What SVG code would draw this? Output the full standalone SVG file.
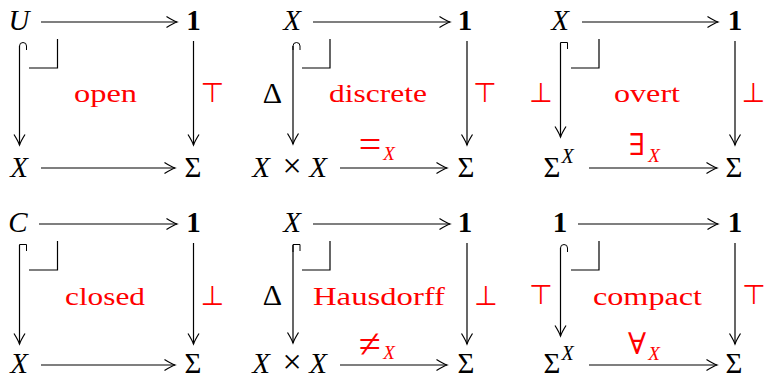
<svg xmlns="http://www.w3.org/2000/svg" width="765" height="379" viewBox="0 0 765 379">
<style>
.m{font-family:"Liberation Serif","DejaVu Serif",serif;font-size:29px;fill:#000;text-anchor:middle}
.i{font-style:italic}
.b{font-weight:bold}
.x{font-size:34px}
.lab{font-family:"Liberation Serif","DejaVu Serif",serif;font-size:30px;text-anchor:middle}
.eq{font-family:"Liberation Serif","DejaVu Serif",serif;font-size:40px;text-anchor:middle;fill:#ff0000}
.sub{font-family:"Liberation Serif","DejaVu Serif",serif;font-size:19px;font-style:italic;text-anchor:middle}
.sym{font-family:"DejaVu Sans",sans-serif;font-size:27px;fill:#ff0000;text-anchor:middle}
.red{fill:#ff0000}
.w{font-family:"Liberation Serif","DejaVu Serif",serif;font-size:26px;fill:#ff0000;text-anchor:middle}
.e{fill:none;stroke:#000;stroke-width:1.2;marker-end:url(#ah)}
.h{fill:none;stroke:#000;stroke-width:1}
.c{fill:none;stroke:#000;stroke-width:1.2}
</style>
<defs>
<marker id="ah" markerUnits="userSpaceOnUse" viewBox="-12 -7 14 14" refX="0" refY="0" markerWidth="14" markerHeight="14" orient="auto">
<path d="M-10.5,-5.5 Q-3.5,-1.2 0,0 Q-3.5,1.2 -10.5,5.5" fill="none" stroke="#000" stroke-width="1.2"/>
</marker>
</defs>

<!-- Panel 1: open -->
<g id="p1-U"><text class="m i" x="19" y="29.5">U</text></g>
<g id="p1-1"><text class="m b" x="193.5" y="29.5">1</text></g>
<g id="p1-X"><text class="m i" x="19" y="176.5">X</text></g>
<g id="p1-S"><text class="m" x="193" y="176.5">Σ</text></g>

<!-- Panel 2: discrete -->
<g id="p2-X"><text class="m i" x="292" y="29.5">X</text></g>
<g id="p2-1"><text class="m b" x="465" y="29.5">1</text></g>
<g id="p2-XX"><text class="m i" x="261" y="176.5">X</text><text class="m x" x="292" y="177">×</text><text class="m i" x="318" y="176.5">X</text></g>
<g id="p2-S"><text class="m" x="466" y="176.5">Σ</text></g>

<!-- Panel 3: overt -->
<g id="p3-X"><text class="m i" x="560" y="29.5">X</text></g>
<g id="p3-1"><text class="m b" x="735" y="29.5">1</text></g>
<g id="p3-SX"><text class="m" x="552" y="176.5">Σ</text><text class="sub" style="font-size:20px" x="567.5" y="163">X</text></g>
<g id="p3-S"><text class="m" x="734" y="176.5">Σ</text></g>

<!-- Panel 4: closed -->
<g id="p4-C"><text class="m i" x="18" y="231.5">C</text></g>
<g id="p4-1"><text class="m b" x="193.5" y="231.5">1</text></g>
<g id="p4-X"><text class="m i" x="19" y="373">X</text></g>
<g id="p4-S"><text class="m" x="193" y="373">Σ</text></g>

<!-- Panel 5: Hausdorff -->
<g id="p5-X"><text class="m i" x="292" y="231.5">X</text></g>
<g id="p5-1"><text class="m b" x="465" y="231.5">1</text></g>
<g id="p5-XX"><text class="m i" x="261" y="373">X</text><text class="m x" x="292" y="372.5">×</text><text class="m i" x="318" y="373">X</text></g>
<g id="p5-S"><text class="m" x="466" y="373">Σ</text></g>

<!-- Panel 6: compact -->
<g id="p6-1a"><text class="m b" x="560" y="231.5">1</text></g>
<g id="p6-1b"><text class="m b" x="735" y="231.5">1</text></g>
<g id="p6-SX"><text class="m" x="552" y="373">Σ</text><text class="sub" style="font-size:20px" x="567.5" y="360">X</text></g>
<g id="p6-S"><text class="m" x="734" y="373">Σ</text></g>

<g id="connectors">
<!-- panel 1 -->
<path class="e" d="M41,22 H177"/>
<path class="e" d="M41,168 H175"/>
<path class="h" d="M26.5,50 V46 A3.5,3.5 0 0 0 19.5,46 V50"/>
<path class="e" d="M19.5,46 V145"/>
<path class="e" d="M193.5,41 V145"/>
<path class="c" d="M29,68 H57.5 V39"/>
<!-- panel 2 -->
<path class="e" d="M313,22 H450"/>
<path class="e" d="M340,168 H447"/>
<path class="h" d="M300,50 V46 A3.5,3.5 0 0 0 293,46 V50"/>
<path class="e" d="M293,46 V144"/>
<path class="e" d="M467,41 V145"/>
<path class="c" d="M302,68 H330 V39"/>
<!-- panel 3 -->
<path class="e" d="M582,22 H718"/>
<path class="e" d="M589,168 H717"/>
<path class="h" d="M567.5,49 V42.5 H560.5 V50"/>
<path class="e" d="M560.5,43 V137"/>
<path class="e" d="M735,41 V145"/>
<path class="c" d="M571,68 H599 V39"/>
<!-- panel 4 -->
<path class="e" d="M39,224 H177"/>
<path class="e" d="M41,365 H175"/>
<path class="h" d="M26.5,251 V244.5 H19.5 V252"/>
<path class="e" d="M19.5,245 V344"/>
<path class="e" d="M193.5,243 V344"/>
<path class="c" d="M29,270 H57.5 V241"/>
<!-- panel 5 -->
<path class="e" d="M313,224 H450"/>
<path class="e" d="M340,365 H447"/>
<path class="h" d="M300,251 V244.5 H293 V252"/>
<path class="e" d="M293,245 V343"/>
<path class="e" d="M467,243 V344"/>
<path class="c" d="M302,270 H330 V241"/>
<!-- panel 6 -->
<path class="e" d="M578,224 H718"/>
<path class="e" d="M589,365 H717"/>
<path class="h" d="M567.5,252 V248 A3.5,3.5 0 0 0 560.5,248 V252"/>
<path class="e" d="M560.5,248 V336"/>
<path class="e" d="M735,243 V344"/>
<path class="c" d="M571,270 H599 V241"/>
</g>

<g id="edge-labels">
<text class="sym" x="212.5" y="102">⊤</text>
<text class="lab" x="272.5" y="102.5">Δ</text>
<text class="sym" x="485" y="102">⊤</text>
<text class="eq" x="370" y="158">=</text><text class="sub red" x="389" y="160">X</text>
<text class="sym" x="541" y="102">⊥</text>
<text class="sym" x="753.5" y="102">⊥</text>
<text class="lab red" x="637" y="155">∃</text><text class="sub red" x="654" y="161.5">X</text>

<text class="sym" x="212.5" y="305">⊥</text>
<text class="lab" x="272.5" y="304.5">Δ</text>
<text class="sym" x="486" y="305">⊥</text>
<text class="eq" x="370" y="357">≠</text><text class="sub red" x="389" y="359">X</text>
<text class="sym" x="541" y="304">⊤</text>
<text class="sym" x="754" y="304">⊤</text>
<text class="lab red" x="637" y="354">∀</text><text class="sub red" x="654" y="360">X</text>
</g>

<g id="names">
<text class="w" x="105.5" y="102" textLength="63" lengthAdjust="spacingAndGlyphs">open</text>
<text class="w" x="378" y="102" textLength="98" lengthAdjust="spacingAndGlyphs">discrete</text>
<text class="w" x="647" y="102" textLength="66" lengthAdjust="spacingAndGlyphs">overt</text>
<text class="w" x="105" y="304.5" textLength="80" lengthAdjust="spacingAndGlyphs">closed</text>
<text class="w" x="379" y="304.5" textLength="132" lengthAdjust="spacingAndGlyphs">Hausdorff</text>
<text class="w" x="647.5" y="304.5" textLength="109" lengthAdjust="spacingAndGlyphs">compact</text>
</g>
</svg>
